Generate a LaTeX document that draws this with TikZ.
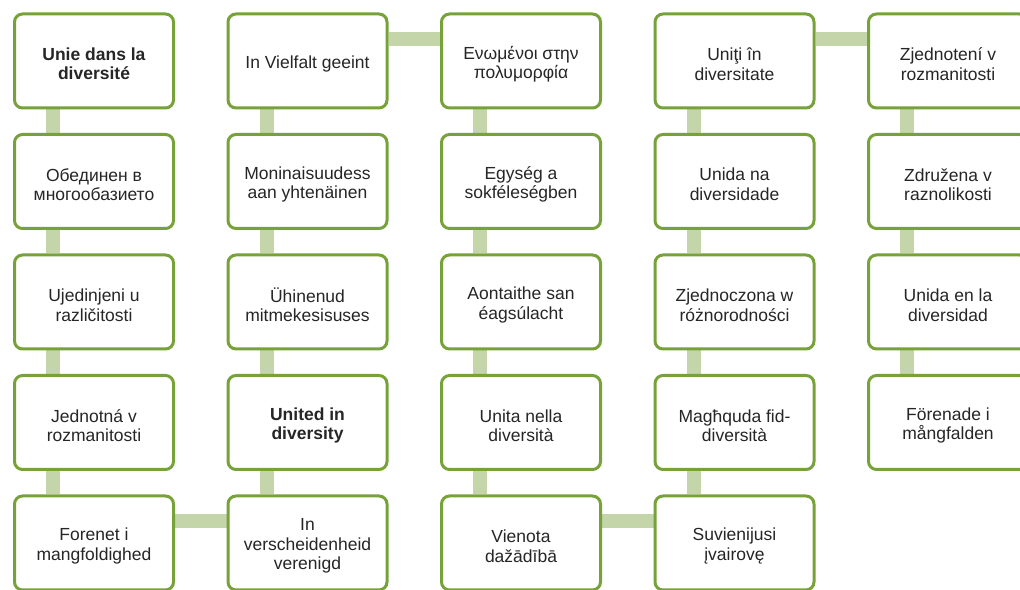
\documentclass[tikz,border=0pt]{standalone}
\usepackage{fontspec}
\setmainfont{Liberation Sans}
\usetikzlibrary{backgrounds}

\definecolor{boxgreen}{HTML}{77A23A}
\definecolor{linkgreen}{HTML}{C3D5A9}
\definecolor{mottotext}{HTML}{262626}

\tikzset{
    mottotext/.style={align=center, text=mottotext, yshift=-3pt,
        font=\fontsize{17.5}{19.5}\selectfont},
    motto/.style={draw=boxgreen, line width=3pt, fill=white, rounded corners=8pt,
        minimum width=159pt, minimum height=94pt, inner sep=0pt,
        label={[mottotext]center:#1}},
    link/.style={draw=linkgreen, line width=14pt},
}

\begin{document}
\begin{tikzpicture}[x=1pt, y=1pt]
    \useasboundingbox (0, 0) rectangle (1020, 589);
        \foreach \name/\col/\row/\txt in {
            fr/0/0/{\textbf{Unie dans la}\\\textbf{diversité}},
            bg/0/1/{Обединен в\\многообазието},
            hr/0/2/{Ujedinjeni u\\različitosti},
            cs/0/3/{Jednotná v\\rozmanitosti},
            da/0/4/{Forenet i\\mangfoldighed},
            de/1/0/{In Vielfalt geeint},
            fi/1/1/{Moninaisuudess\\aan yhtenäinen},
            et/1/2/{Ühinenud\\mitmekesisuses},
            en/1/3/{\textbf{United in}\\\textbf{diversity}},
            nl/1/4/{In\\verscheidenheid\\verenigd},
            el/2/0/{Ενωμένοι στην\\πολυμορφία},
            hu/2/1/{Egység a\\sokféleségben},
            ga/2/2/{Aontaithe san\\éagsúlacht},
            it/2/3/{Unita nella\\diversità},
            lv/2/4/{Vienota\\dažādībā},
            ro/3/0/{Uniţi în\\diversitate},
            pt/3/1/{Unida na\\diversidade},
            pl/3/2/{Zjednoczona w\\różnorodności},
            mt/3/3/{Magħquda fid-\\diversità},
            lt/3/4/{Suvienijusi\\įvairovę},
            sk/4/0/{Zjednotení v\\rozmanitosti},
            sl/4/1/{Združena v\\raznolikosti},
            es/4/2/{Unida en la\\diversidad},
            sv/4/3/{Förenade i\\mångfalden}} {
            \node[motto=\txt] (\name) at (94+213.5*\col, 528-120.5*\row) {};
        }

        \begin{scope}[on background layer]
        \foreach \a/\b in {fr/bg, bg/hr, hr/cs, cs/da, de/fi, fi/et, et/en, en/nl,
                           el/hu, hu/ga, ga/it, it/lv, ro/pt, pt/pl, pl/mt, mt/lt,
                           sk/sl, sl/es, es/sv} {
            \draw[link] ([xshift=-41pt]\a.south) to ([xshift=-41pt]\b.north);
        }
        \foreach \a/\b in {da/nl, de/el, lv/lt, ro/sk} {
            \draw[link] ([yshift=22pt]\a.east) to ([yshift=22pt]\b.west);
        }
        \end{scope}
    \end{tikzpicture}
\end{document}
